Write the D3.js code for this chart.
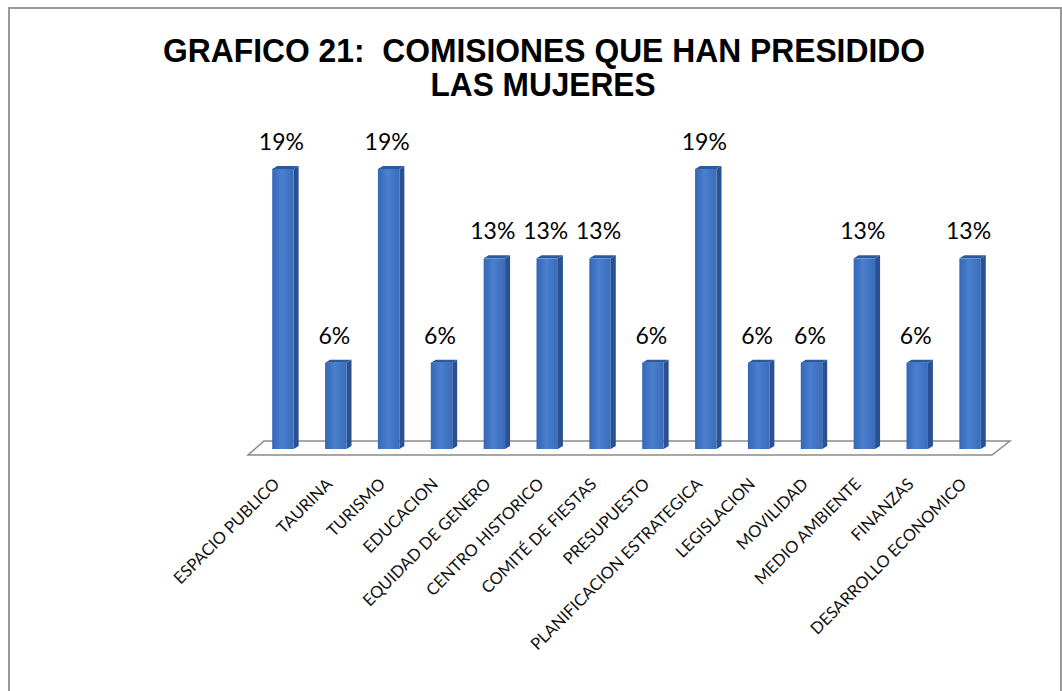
<!DOCTYPE html>
<html>
<head>
<meta charset="utf-8">
<script src="https://cdn.jsdelivr.net/npm/d3@7"></script>
<style>
  html, body { margin: 0; padding: 0; background: #fff; }
  svg { display: block; }
</style>
</head>
<body>
<svg id="chart" width="1062" height="691"></svg>
<script>
const titleLines = ["GRAFICO 21:\u00a0 COMISIONES QUE HAN PRESIDIDO", "LAS MUJERES"];
const categories = ["ESPACIO PUBLICO", "TAURINA", "TURISMO", "EDUCACION", "EQUIDAD DE GENERO",
  "CENTRO HISTORICO", "COMITÉ DE FIESTAS", "PRESUPUESTO", "PLANIFICACION ESTRATEGICA",
  "LEGISLACION", "MOVILIDAD", "MEDIO AMBIENTE", "FINANZAS", "DESARROLLO ECONOMICO"];
const values = [19, 6, 19, 6, 13, 13, 13, 6, 19, 6, 6, 13, 6, 13];

const svg = d3.select("#chart");

// outer frame
svg.append("rect").attr("x", 9).attr("y", 8).attr("width", 1052).attr("height", 690)
  .attr("fill", "#fff").attr("stroke", "#9a9a9a").attr("stroke-width", 2);

// title
const tFont = "'Liberation Sans Narrow', 'Liberation Sans', Arial, sans-serif";
svg.append("text").attr("x", 544).attr("y", 62).attr("text-anchor", "middle")
  .attr("font-family", tFont).attr("font-weight", "bold").attr("font-size", 33)
  .attr("textLength", 762).attr("lengthAdjust", "spacingAndGlyphs").text(titleLines[0]);
svg.append("text").attr("x", 543).attr("y", 96).attr("text-anchor", "middle")
  .attr("font-family", tFont).attr("font-weight", "bold").attr("font-size", 33)
  .attr("textLength", 225).attr("lengthAdjust", "spacingAndGlyphs").text(titleLines[1]);

const x = d3.scaleBand().domain(categories).range([259, 999]).paddingInner(0.5).paddingOuter(0.25);
const y = d3.scaleLinear().domain([0, 19]).range([449, 166]);

// floor
const floor = [[264, 441], [1010, 441], [992, 455], [248, 455]];
svg.append("polygon").attr("points", floor.map(p => p.join(",")).join(" "))
  .attr("fill", "#fdfdfd").attr("stroke", "#8a8a8a").attr("stroke-width", 1.5);

// gradient for bar front
const defs = svg.append("defs");
const grad = defs.append("linearGradient").attr("id", "front").attr("x1", 0).attr("x2", 1).attr("y1", 0).attr("y2", 0);
grad.append("stop").attr("offset", "0%").attr("stop-color", "#3466b4");
grad.append("stop").attr("offset", "45%").attr("stop-color", "#4a80cf");
grad.append("stop").attr("offset", "100%").attr("stop-color", "#3a6cbb");

const bw = x.bandwidth();
const side = 5, depth = 3;
const bars = svg.append("g").selectAll("g").data(values).join("g");
bars.each(function(v, i) {
  const g = d3.select(this);
  const x0 = x(categories[i]);
  const fw = bw - side;
  const top = y(v);
  const base = y(0);
  g.append("polygon")
    .attr("points", [[x0 + fw, top + depth], [x0 + bw, top], [x0 + bw, base - depth], [x0 + fw, base]].map(p => p.join(",")).join(" "))
    .attr("fill", "#2a5292");
  g.append("rect").attr("x", x0).attr("y", top + depth).attr("width", fw).attr("height", base - top - depth)
    .attr("fill", "url(#front)");
  g.append("polygon")
    .attr("points", [[x0, top + depth], [x0 + fw, top + depth], [x0 + bw, top], [x0 + side, top]].map(p => p.join(",")).join(" "))
    .attr("fill", "#2c5a9f");
});

// data labels
svg.append("g").selectAll("text").data(values).join("text")
  .attr("x", (d, i) => x(categories[i]) + bw / 2 - 4)
  .attr("y", d => y(d) - 16)
  .attr("text-anchor", "middle")
  .attr("font-family", "Lato, 'Open Sans', sans-serif")
  .attr("font-size", 23)
  .attr("fill", "#000")
  .text(d => d + "%");

// category axis
const axis = d3.axisBottom(x).tickSize(0).tickPadding(0);
const ax = svg.append("g").attr("transform", "translate(0,481)").call(axis);
ax.select(".domain").remove();
ax.selectAll("text")
  .attr("font-family", "Lato, 'Open Sans', sans-serif")
  .attr("font-size", 16.5)
  .attr("fill", "#111")
  .attr("text-anchor", "end")
  .attr("x", 0).attr("y", 0).attr("dy", "0.35em")
  .attr("transform", "translate(-9,0) rotate(-45)");
</script>
</body>
</html>
